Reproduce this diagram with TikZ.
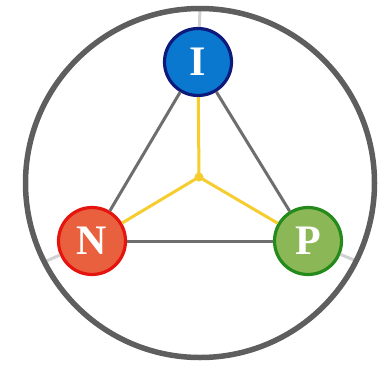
\documentclass[tikz,border=0pt]{standalone}
\usepackage{fontspec}
\setmainfont{Liberation Serif}
\begin{document}
\begin{tikzpicture}[x=1pt,y=-1pt,
  vert/.style={circle,minimum size=67pt,inner sep=0pt,line width=3.2pt,text=white,font=\fontsize{42}{42}\selectfont\bfseries},
  edge/.style={draw=edgegray,line width=3pt},
  spoke/.style={draw=spokeyellow,line width=3pt},
  ray/.style={draw=black!18,line width=3pt}]
\definecolor{iblue}{HTML}{0A78CF}
\definecolor{inavy}{HTML}{0D1A7C}
\definecolor{norange}{HTML}{E8603E}
\definecolor{nred}{HTML}{E5140F}
\definecolor{pgreen}{HTML}{8BB757}
\definecolor{pdark}{HTML}{258A1C}
\definecolor{ringgray}{HTML}{5E5E5E}
\definecolor{edgegray}{HTML}{6E6E6E}
\definecolor{spokeyellow}{HTML}{F6CD2E}
\useasboundingbox (0,0) rectangle (385,367);
\coordinate (O) at (200,183);
\coordinate (c) at (199,177);
\coordinate (rI) at (200,8);
\coordinate (rN) at (44,262);
\coordinate (rP) at (354,260);
\node[vert,fill=iblue,draw=inavy] (I) at (198,62) {I};
\node[vert,fill=norange,draw=nred] (N) at (92,241) {N};
\node[vert,fill=pgreen,draw=pdark] (P) at (308,241) {P};
\path[ray] (I) -- (rI);
\path[ray] (N) -- (rN);
\path[ray] (P) -- (rP);
\path[edge] (I) -- (N);
\path[edge] (I) -- (P);
\path[edge] (N) -- (P);
\path[spoke] (c) -- (I);
\path[spoke] (c) -- (N);
\path[spoke] (c) -- (P);
\fill[spokeyellow] (c) circle (4.5pt);
\node[draw=ringgray,line width=5.5pt,circle,minimum size=349pt,inner sep=0pt] (ring) at (O) {};
\end{tikzpicture}
\end{document}
